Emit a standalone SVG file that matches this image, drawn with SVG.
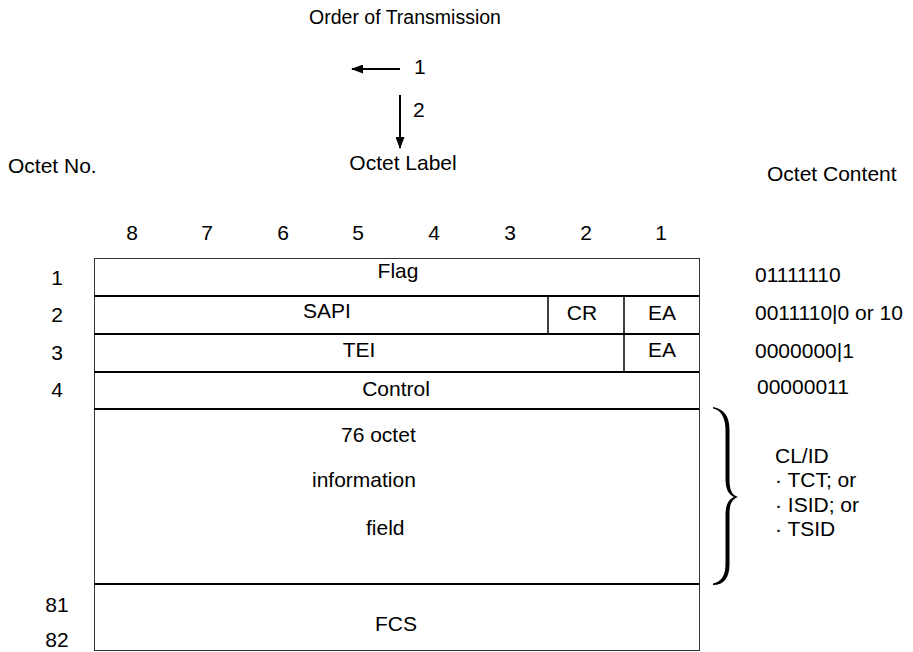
<svg xmlns="http://www.w3.org/2000/svg" width="913" height="652" viewBox="0 0 913 652">
<style>
text{font-family:"Liberation Sans",Arial,sans-serif;font-size:21px;fill:#000}
.m{text-anchor:middle}
.hl{stroke:#000;stroke-width:2}
.vl{stroke:#000;stroke-width:1.5}
.bd{fill:none;stroke:#333;stroke-width:1}
</style>
<defs>
<marker id="ah" markerWidth="12" markerHeight="9" refX="11" refY="4.5" orient="auto" markerUnits="userSpaceOnUse">
<path d="M0,0 L12,4.5 L0,9 Z" fill="#000"/>
</marker>
</defs>
<g id="legend">
<text class="m" x="405" y="24" style="font-size:19.5px">Order of Transmission</text>
<text x="414" y="74">1</text>
<text x="413" y="117">2</text>
<text class="m" x="403" y="170">Octet Label</text>
<text x="8" y="173">Octet No.</text>
<text x="767" y="181">Octet Content</text>
</g>
<g id="connectors">
<line x1="400" y1="69" x2="352" y2="69" stroke="#000" stroke-width="2" marker-end="url(#ah)"/>
<line x1="400" y1="95" x2="400" y2="148" stroke="#000" stroke-width="2" marker-end="url(#ah)"/>
</g>
<g id="bits">
<text class="m" x="132" y="240">8</text>
<text class="m" x="207" y="240">7</text>
<text class="m" x="283" y="240">6</text>
<text class="m" x="358" y="240">5</text>
<text class="m" x="434" y="240">4</text>
<text class="m" x="510" y="240">3</text>
<text class="m" x="586" y="240">2</text>
<text class="m" x="661" y="240">1</text>
</g>
<g id="octet-numbers">
<text class="m" x="57" y="285">1</text>
<text class="m" x="57" y="322">2</text>
<text class="m" x="57" y="360">3</text>
<text class="m" x="57" y="397">4</text>
<text class="m" x="57" y="612">81</text>
<text class="m" x="57" y="647">82</text>
</g>
<g id="frame">
<rect class="bd" x="94.5" y="258.5" width="605" height="392"/>
<line class="hl" x1="94" y1="296" x2="699" y2="296"/>
<line class="hl" x1="94" y1="334" x2="699" y2="334"/>
<line class="hl" x1="94" y1="372" x2="699" y2="372"/>
<line class="hl" x1="94" y1="409" x2="699" y2="409"/>
<line class="hl" x1="94" y1="584" x2="699" y2="584"/>
<line class="vl" x1="548" y1="296" x2="548" y2="334"/>
<line class="vl" x1="624" y1="296" x2="624" y2="372"/>
</g>
<g id="flag"><text class="m" x="398" y="278">Flag</text></g>
<g id="sapi"><text class="m" x="327" y="318">SAPI</text></g>
<g id="cr"><text class="m" x="582" y="320">CR</text></g>
<g id="ea2"><text class="m" x="662" y="320">EA</text></g>
<g id="tei"><text class="m" x="359" y="357">TEI</text></g>
<g id="ea3"><text class="m" x="662" y="357">EA</text></g>
<g id="control"><text class="m" x="396" y="396">Control</text></g>
<g id="info">
<text x="341" y="442">76 octet</text>
<text x="312" y="487">information</text>
<text x="366" y="535">field</text>
</g>
<g id="fcs"><text class="m" x="396" y="631">FCS</text></g>
<g id="content">
<text x="755" y="282">01111110</text>
<text x="755" y="320">0011110|0 or 10</text>
<text x="755" y="358">0000000|1</text>
<text x="757" y="394">00000011</text>
</g>
<g id="brace">
<path d="M713,407 C724,409 729.5,416 729.5,430 L729.5,480 C729.5,490 732,495 738,497 C732,499 729.5,504 729.5,514 L729.5,564 C729.5,578 724,585 713,585 L713,583.5 C721,582 725.5,576 725.5,564 L725.5,516 C725.5,505 728,500 734,497 C728,494 725.5,489 725.5,478 L725.5,430 C725.5,418 721,410 713,408.5 Z" fill="#000"/>
<text x="775" y="463">CL/ID</text>
<text x="775" y="487">· TCT; or</text>
<text x="775" y="512">·  ISID; or</text>
<text x="775" y="536">· TSID</text>
</g>
</svg>
